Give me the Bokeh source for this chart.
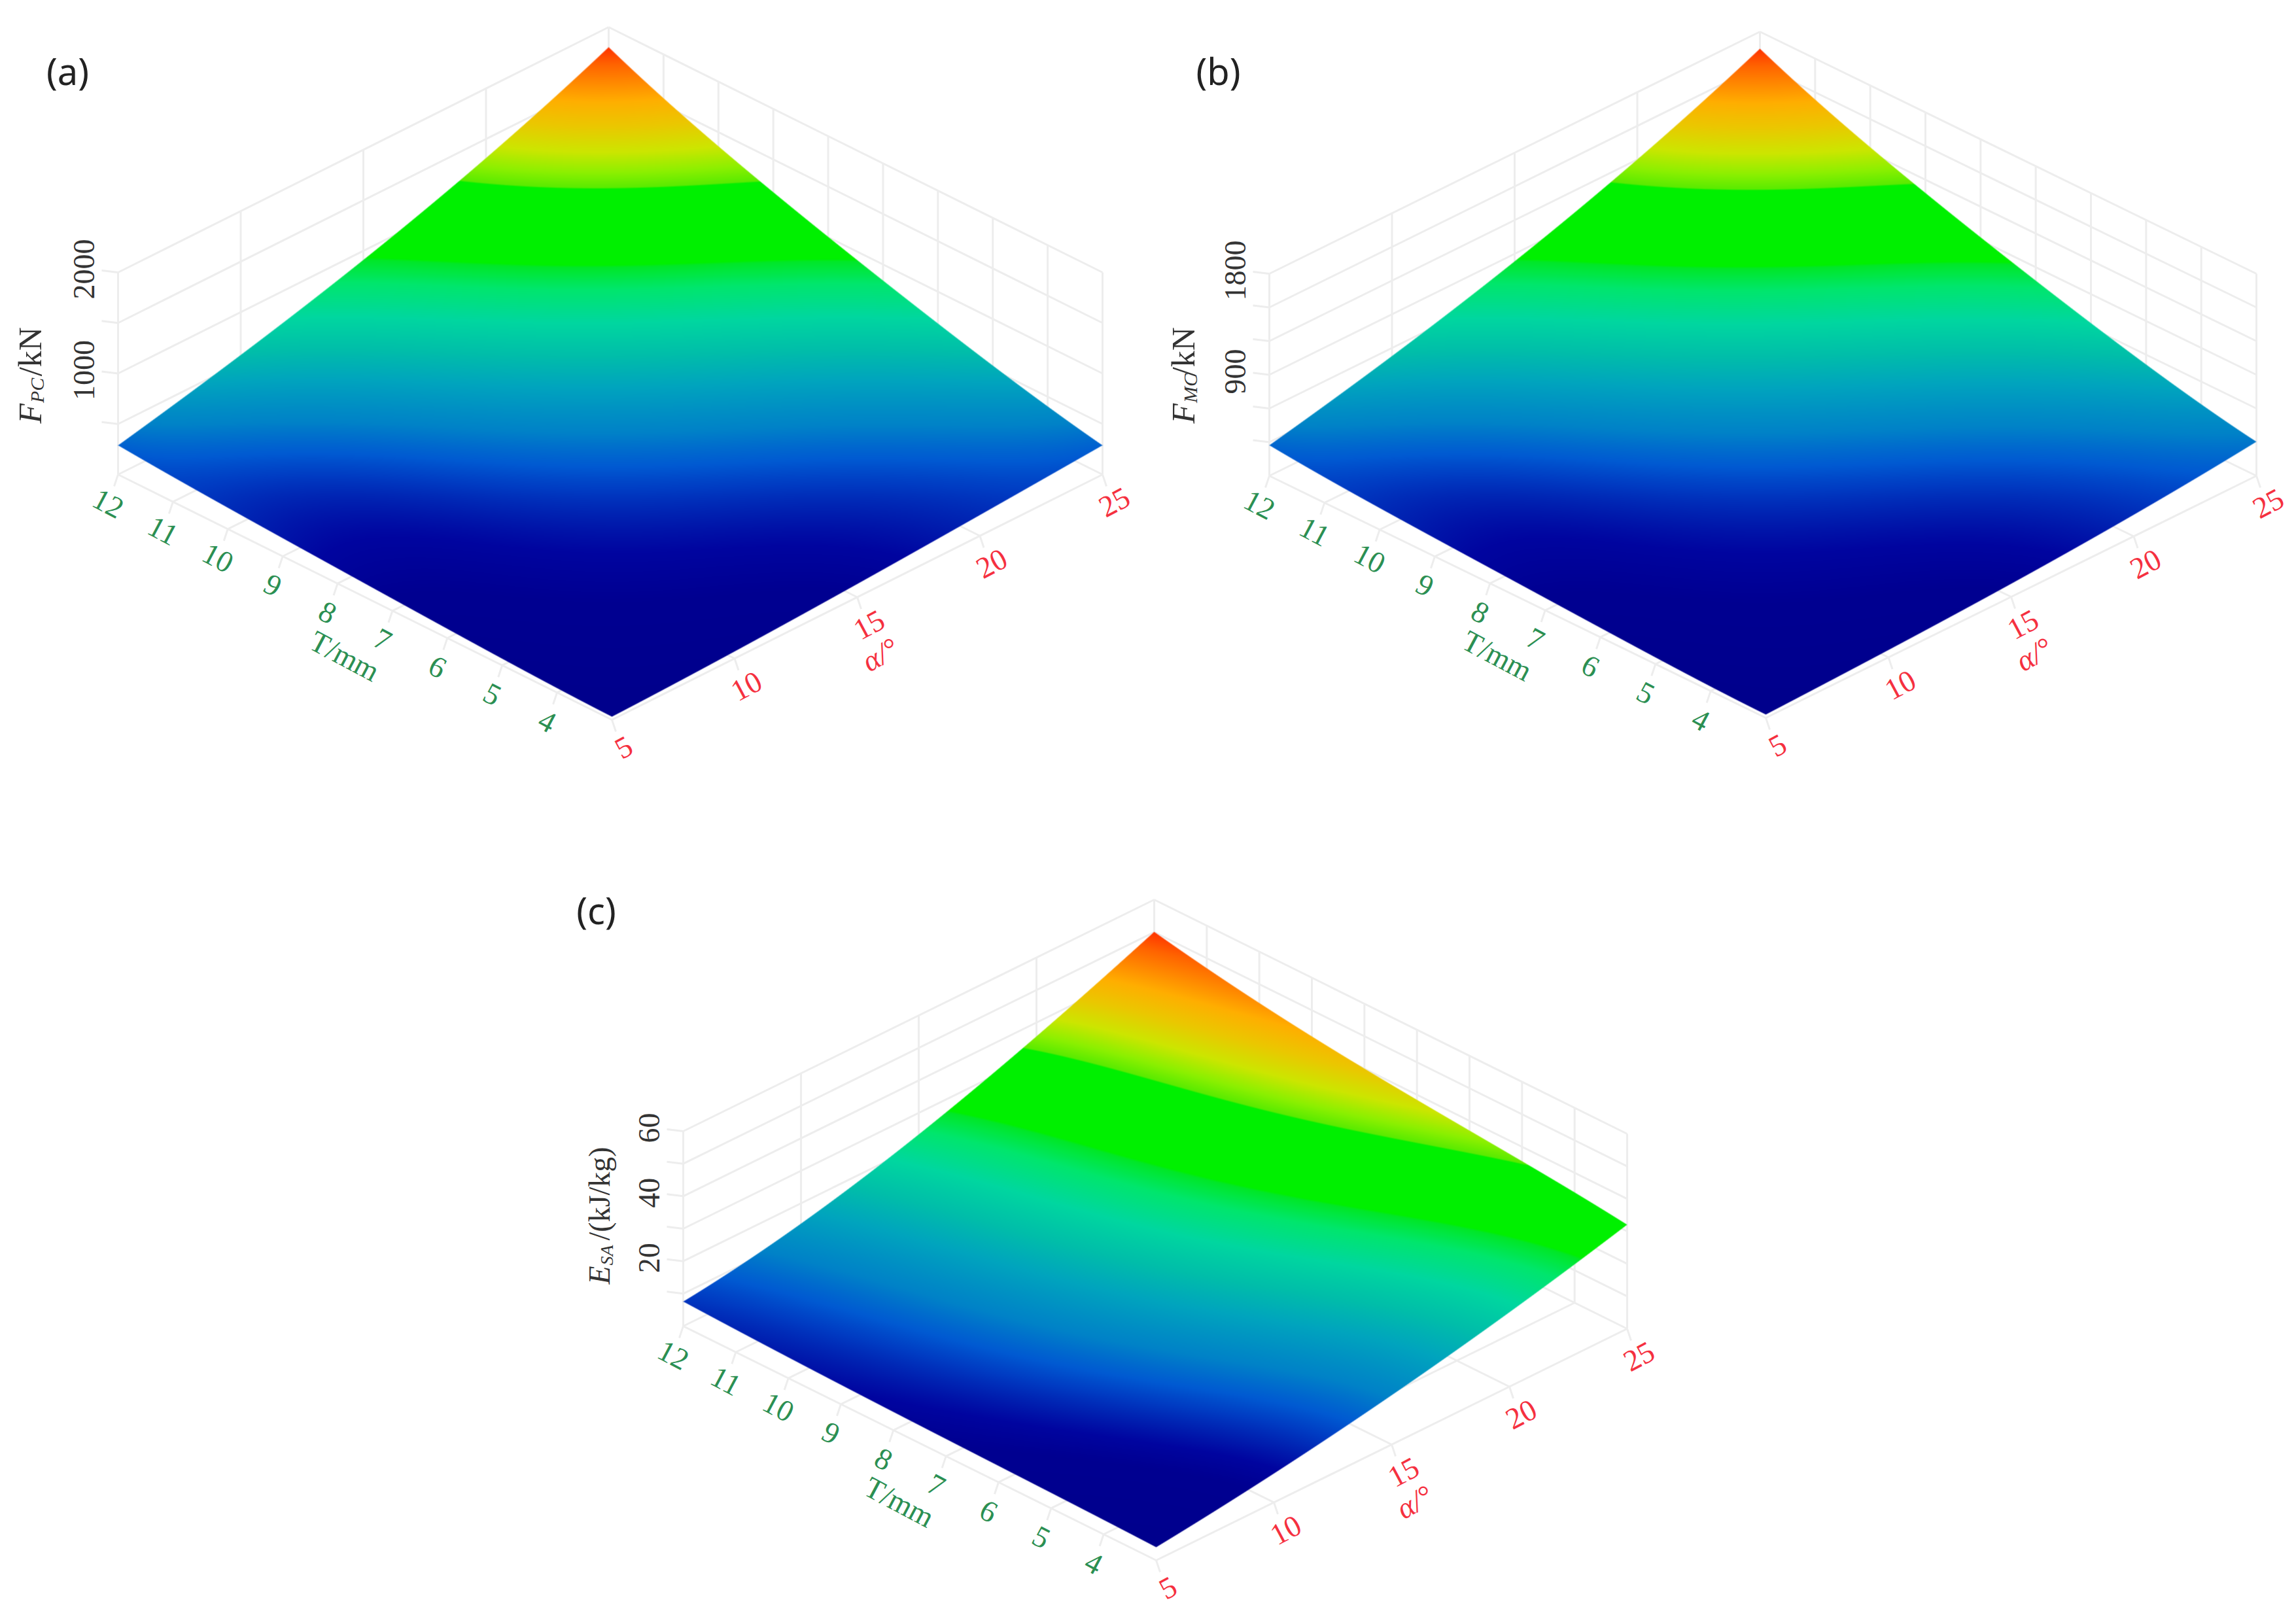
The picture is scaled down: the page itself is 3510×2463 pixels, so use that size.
import numpy as np
from numpy.polynomial import polynomial as poly
from bokeh.core.properties import value
from bokeh.embed import file_html
from bokeh.models import Range1d
from bokeh.plotting import figure
from bokeh.resources import INLINE

# axes shared by the three surfaces
alpha = [5, 10, 15, 20, 25]
thick = [3, 4, 5, 6, 7, 8, 9, 10, 11, 12]
alpha_labels = [5, 10, 15, 20, 25]
thick_labels = [4, 5, 6, 7, 8, 9, 10, 11, 12]

# surface values, one row per thickness, one column per angle
f_pc = [
    [30, 70, 130, 200, 290],
    [48, 97, 161, 240, 407],
    [66, 123, 192, 280, 532],
    [90, 153, 230, 377, 693],
    [117, 184, 270, 504, 847],
    [146, 220, 349, 684, 993],
    [177, 260, 475, 852, 1167],
    [210, 319, 633, 990, 1361],
    [250, 412, 774, 1148, 1578],
    [290, 572, 920, 1312, 1800],
]
f_mc = [
    [29, 64, 119, 185, 305],
    [44, 89, 147, 222, 400],
    [60, 113, 176, 259, 510],
    [82, 140, 211, 345, 645],
    [107, 168, 247, 461, 785],
    [134, 201, 320, 626, 920],
    [162, 238, 435, 780, 1075],
    [192, 292, 580, 906, 1250],
    [229, 377, 709, 1051, 1445],
    [274, 524, 842, 1201, 1648],
]
e_sa = [
    [4.0, 9.0, 15.0, 23.0, 32.0],
    [4.4, 9.6, 15.9, 24.4, 34.0],
    [4.7, 10.0, 16.5, 25.5, 35.4],
    [5.0, 10.4, 17.2, 26.6, 37.0],
    [5.3, 10.8, 17.9, 27.7, 38.5],
    [5.5, 11.2, 18.5, 28.7, 39.9],
    [6.0, 11.8, 19.5, 30.3, 42.0],
    [6.3, 12.4, 20.4, 31.7, 44.0],
    [6.9, 13.2, 21.6, 33.8, 47.0],
    [7.5, 14.0, 23.0, 36.0, 50.0],
]
# the colours of (c) read on their own, they do not follow the heights exactly
e_sa_colour = [
    [1.5, 4.5, 9.5, 19.0, 30.0],
    [1.9, 5.1, 10.5, 20.2, 32.0],
    [2.3, 5.8, 11.9, 21.8, 34.2],
    [2.9, 6.8, 13.6, 23.8, 36.0],
    [3.6, 7.9, 15.6, 26.2, 39.0],
    [4.1, 8.6, 16.9, 27.8, 41.0],
    [4.6, 9.4, 18.3, 29.4, 43.0],
    [5.0, 10.1, 19.6, 31.0, 45.0],
    [5.6, 11.1, 21.3, 33.0, 47.5],
    [6.2, 12.0, 23.0, 35.0, 50.0],
]

# colour scale, as a share of the highest value of a surface
stop_t = [0.017, 0.068, 0.088, 0.106, 0.129, 0.153, 0.196, 0.269, 0.325, 0.39, 0.458, 0.506, 0.511,
          0.675, 0.678, 0.71, 0.756, 0.811, 0.867, 0.956, 1.0]
stop_r = [0, 0, 0, 0, 0, 0, 0, 0, 0, 0, 0, 0, 0, 0, 90, 140, 205, 235, 255, 255, 255]
stop_g = [0, 0, 5, 30, 60, 90, 130, 165, 190, 215, 230, 232, 240, 240, 235, 240, 230, 200, 175, 100, 50]
stop_b = [140, 145, 160, 175, 195, 210, 200, 190, 170, 160, 110, 40, 0, 0, 0, 0, 0, 0, 0, 0, 0]

GRID = "#ededed"
GREEN = "#2b8f52"
RED = "#f5303f"
DARK = "#333333"
SERIF = "Liberation Serif"

# where each cube sits on the page
panels = [
    dict(tag="(a)", tag_at=(103, 107), z=f_pc, colour=f_pc, z_lines=[500, 1000, 1500, 2000], z_labels=[1000, 2000], z_top=2000,
         front=(935, 1100), left=(180, 725), right=(1685, 725), wall=309, title=("F", "PC", "/kN"), title_at=(45, 647), title_size=50),
    dict(tag="(b)", tag_at=(1862, 107), z=f_mc, colour=f_mc, z_lines=[300, 600, 900, 1200, 1500, 1800], z_labels=[900, 1800], z_top=1800,
         front=(2699, 1097), left=(1940, 727), right=(3449, 727), wall=309, title=("F", "MC", "/kN"), title_at=(1808, 647), title_size=50),
    dict(tag="(c)", tag_at=(911, 1390), z=e_sa, colour=e_sa_colour, z_lines=[10, 20, 30, 40, 50, 60], z_labels=[20, 40, 60], z_top=60,
         front=(1767, 2385), left=(1044, 2027), right=(2487, 2031), wall=298, title=("E", "SA", "/(kJ/kg)"), title_at=(916, 1963), title_size=46),
]

p = figure(width=3510, height=2463, x_range=Range1d(0, 3510), y_range=Range1d(-2463, 0),
           x_axis_location=None, y_axis_location=None, toolbar_location=None,
           output_backend="svg", min_border=0, outline_line_color=None)
p.grid.visible = False


def project(panel, a, t, z=0):
    # oblique view: angle and thickness run over the floor, height goes straight up
    u = (np.asarray(a, float) - alpha[0]) / (alpha[-1] - alpha[0])
    v = (np.asarray(t, float) - thick[0]) / (thick[-1] - thick[0])
    fx, fy = panel["front"]
    x = fx + u * (panel["right"][0] - fx) + v * (panel["left"][0] - fx)
    y = fy + u * (panel["right"][1] - fy) + v * (panel["left"][1] - fy)
    return x, y - np.asarray(z, float) * panel["wall"] / panel["z_top"]


def segments(panel, starts, ends, width=3):
    x0, y0 = zip(*[project(panel, *s) for s in starts])
    x1, y1 = zip(*[project(panel, *e) for e in ends])
    p.segment(x0, [-y for y in y0], x1, [-y for y in y1], line_color=GRID, line_width=width)


def label(x, y, text, angle, color, size, font=SERIF, style="normal", align="center"):
    p.text([x], [-y], text=[text], angle=angle, angle_units="deg", text_color=color,
           text_font=value(font), text_font_size=value(f"{size}px"), text_font_style=style,
           text_align=align, text_baseline="middle")


def draw_walls(panel):
    a0, a1, t0, t1 = alpha[0], alpha[-1], thick[0], thick[-1]
    top = panel["z_top"]
    # floor grid
    segments(panel, [(a, t0) for a in alpha], [(a, t1) for a in alpha])
    segments(panel, [(a0, t) for t in thick], [(a1, t) for t in thick])
    # back walls
    segments(panel, [(a, t1) for a in alpha], [(a, t1, top) for a in alpha])
    segments(panel, [(a1, t) for t in thick], [(a1, t, top) for t in thick])
    segments(panel, [(a0, t1, z) for z in panel["z_lines"]], [(a1, t1, z) for z in panel["z_lines"]])
    segments(panel, [(a1, t1, z) for z in panel["z_lines"]], [(a1, t0, z) for z in panel["z_lines"]])


def sheet(values):
    # smooth sheet through the read values
    gu, gv = np.meshgrid(np.linspace(0, 1, len(alpha)), np.linspace(0, 1, len(thick)))
    basis = poly.polyvander2d(gu.ravel(), gv.ravel(), [3, 4])
    return np.linalg.lstsq(basis, np.array(values, float).ravel(), rcond=None)[0].reshape(4, 5)


def draw_surface(panel):
    zmax = np.max(panel["z"])
    k = panel["wall"] / panel["z_top"]
    fx, fy = panel["front"]
    ax, ay = panel["right"][0] - fx, panel["right"][1] - fy
    bx, by = panel["left"][0] - fx, panel["left"][1] - fy
    det = ax * by - ay * bx
    x0, x1 = panel["left"][0] - 4, panel["right"][0] + 4
    y0, y1 = int(panel["left"][1] + panel["right"][1] - fy - zmax * k) - 4, fy + 4
    X, Y = np.meshgrid(np.arange(x0, x1) + 0.5, np.arange(y0, y1)[::-1] + 0.5)
    coef = sheet(panel["z"])

    # find the surface point seen at each pixel
    z = np.zeros_like(X)
    for _ in range(15):
        dy = Y + k * z - fy
        u = ((X - fx) * by - dy * bx) / det
        v = (ax * dy - ay * (X - fx)) / det
        z = 0.5 * z + 0.5 * poly.polyval2d(np.clip(u, 0, 1), np.clip(v, 0, 1), coef)

    t = poly.polyval2d(np.clip(u, 0, 1), np.clip(v, 0, 1), sheet(panel["colour"])) / zmax
    r = np.interp(t, stop_t, stop_r).astype(np.uint32)
    g = np.interp(t, stop_t, stop_g).astype(np.uint32)
    b = np.interp(t, stop_t, stop_b).astype(np.uint32)
    edge = np.minimum.reduce([u, 1 - u, v, 1 - v]) * 670 + 0.5
    a = (np.clip(edge, 0, 1) * 255).astype(np.uint32)
    img = r | (g << 8) | (b << 16) | (a << 24)
    p.image_rgba(image=[img], x=[x0], y=[-y1], dw=[x1 - x0], dh=[y1 - y0])


def draw_labels(panel):
    a0, t0, t1 = alpha[0], thick[0], thick[-1]
    # ticks and numbers on the thickness axis
    for t in thick_labels:
        x, y = project(panel, a0, t)
        p.segment([x], [-y], [x - 6], [-y - 18], line_color=GRID, line_width=3)
        label(x - 15, y + 44, str(t), -28, GREEN, 46)
    # ticks and numbers on the angle axis
    for a in alpha_labels:
        x, y = project(panel, a, t0)
        p.segment([x], [-y], [x + 6], [-y - 18], line_color=GRID, line_width=3)
        label(x + 18, y + 42, str(a), 28, RED, 46)
    x, y = project(panel, a0, (t0 + t1) / 2)
    label(x - 31, y + 90, "T/mm", -28, GREEN, 46)
    x, y = project(panel, (alpha[0] + alpha[-1]) / 2, t0)
    label(x + 35, y + 88, "α/°", 30, RED, 46, style="italic")
    # height axis
    for z in panel["z_lines"]:
        x, y = project(panel, a0, t1, z)
        p.segment([x], [-y], [x - 25], [-y + 3], line_color=GRID, line_width=3)
    for z in panel["z_labels"]:
        x, y = project(panel, a0, t1, z)
        label(x - 52, y - 5, str(z), 90, DARK, 46)
    sym, sub, unit = panel["title"]
    x, y = panel["title_at"]
    size = panel["title_size"]
    small = round(size * 0.6)
    label(x, y, sym, 90, DARK, size, style="italic", align="left")
    label(x + 11, y - 0.63 * size, sub, 90, DARK, small, style="italic", align="left")
    label(x, y - 0.63 * size - 0.68 * small * len(sub), unit, 90, DARK, size, align="left")
    label(*panel["tag_at"], panel["tag"], 0, "#222222", 56, font="Noto Sans")


for panel in panels:
    draw_walls(panel)
    draw_surface(panel)
    draw_labels(panel)

open("out.html", "w").write(file_html(p, INLINE))
